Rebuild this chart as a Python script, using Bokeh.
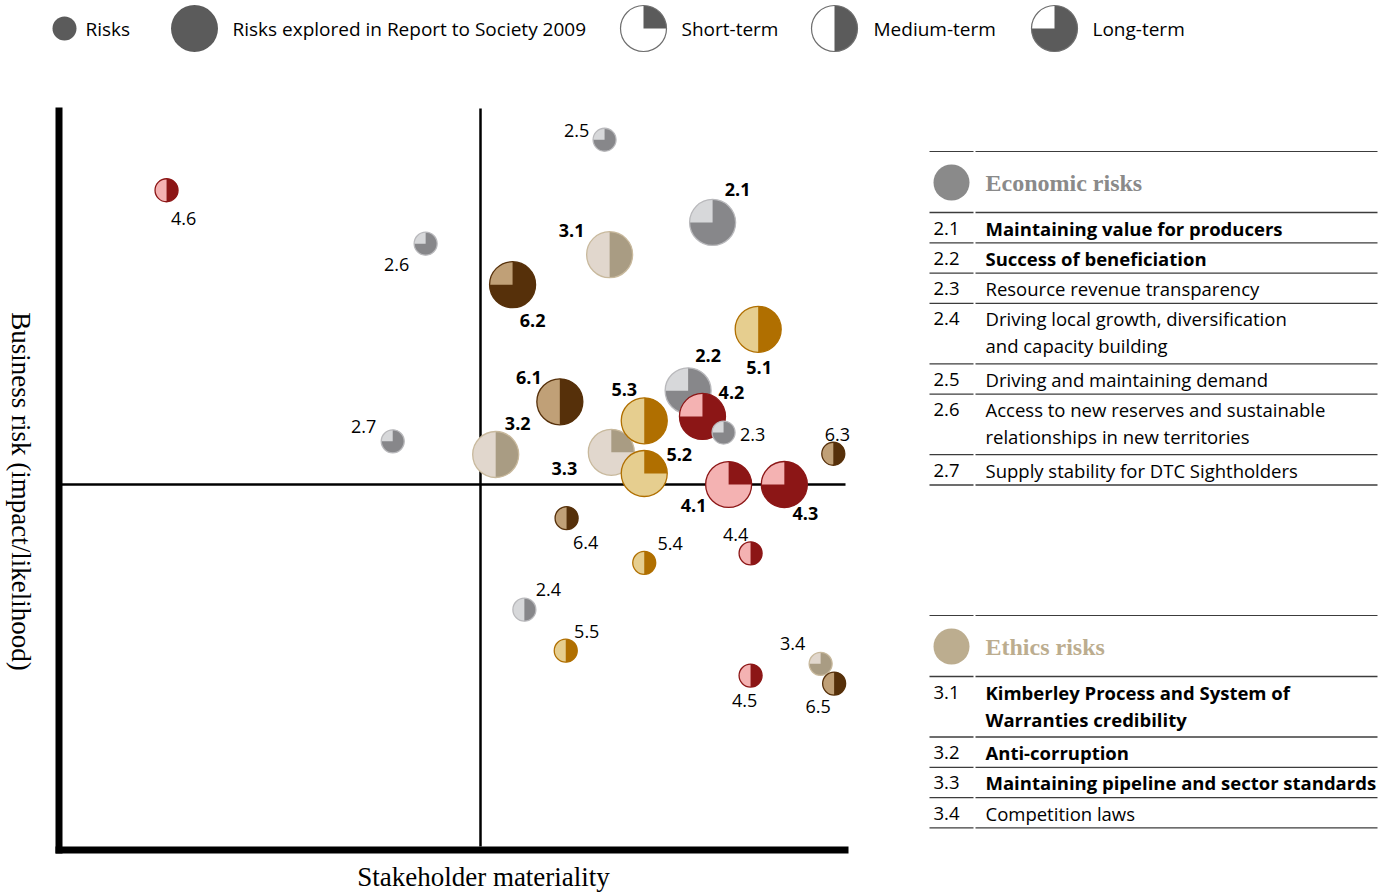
import math
from bokeh.plotting import figure
from bokeh.models import Range1d
from bokeh.core.properties import value
from bokeh.embed import file_html
from bokeh.resources import INLINE

W, H = 1392, 894
SANS = "Open Sans"
SERIF = "Liberation Serif"

# ---------------------------------------------------------------------------
# Risk map data: stakeholder materiality (x) against business risk (y), 0-10
# ---------------------------------------------------------------------------
risk_ids = ["4.6", "2.6", "2.5", "2.1", "3.1", "6.2", "5.1", "2.2", "4.2", "2.3",
            "6.1", "3.3", "5.3", "3.2", "5.2", "4.1", "4.3", "6.3", "2.7", "6.4",
            "5.4", "4.4", "2.4", "5.5", "4.5", "3.4", "6.5"]
materiality = [1.28, 4.35, 6.47, 7.75, 6.53, 5.38, 8.29, 7.46, 7.63, 7.88,
               5.94, 6.55, 6.94, 5.18, 6.94, 7.94, 8.60, 9.18, 3.96, 6.02,
               6.94, 8.20, 5.52, 6.01, 8.20, 9.03, 9.19]
business_risk = [9.02, 8.29, 9.71, 8.58, 8.14, 7.73, 7.12, 6.28, 5.93, 5.71,
                 6.13, 5.44, 5.87, 5.41, 5.15, 5.00, 5.00, 5.42, 5.59, 4.54,
                 3.93, 4.06, 3.29, 2.73, 2.39, 2.55, 2.28]
# explored in Report to Society 2009 (drawn large, labelled in bold)
explored = [False, False, False, True, True, True, True, True, True, False,
            True, True, True, True, True, True, True, False, False, False,
            False, False, False, False, False, False, False]
horizon = ["medium", "long", "long", "long", "medium", "long", "medium", "long", "long", "long",
           "medium", "short", "medium", "medium", "short", "short", "long", "medium", "long", "medium",
           "medium", "medium", "medium", "medium", "medium", "long", "medium"]

MID_MATERIALITY = 5.0
MID_RISK = 5.0

# Risk tables
economic_title = "Economic risks"
economic_codes = ["2.1", "2.2", "2.3", "2.4", "2.5", "2.6", "2.7"]
economic_names = ["Maintaining value for producers",
                  "Success of beneficiation",
                  "Resource revenue transparency",
                  "Driving local growth, diversification\nand capacity building",
                  "Driving and maintaining demand",
                  "Access to new reserves and sustainable\nrelationships in new territories",
                  "Supply stability for DTC Sightholders"]
ethics_title = "Ethics risks"
ethics_codes = ["3.1", "3.2", "3.3", "3.4"]
ethics_names = ["Kimberley Process and System of\nWarranties credibility",
                "Anti-corruption",
                "Maintaining pipeline and sector standards",
                "Competition laws"]

legend_labels = ["Risks", "Risks explored in Report to Society 2009",
                 "Short-term", "Medium-term", "Long-term"]

# ---------------------------------------------------------------------------
# Styling
# ---------------------------------------------------------------------------
# family -> (light, dark, outline)
palette = {
    "2": ("#d7d8da", "#87878a", "#b9b9bc"),
    "3": ("#e1d7cd", "#a99c83", "#c8b99d"),
    "4": ("#f4b2b2", "#8c1616", "#8c1616"),
    "5": ("#e6ce8f", "#b06f00", "#b06f00"),
    "6": ("#c0a077", "#56300a", "#56300a"),
}
R_SMALL, R_LARGE = 11.5, 23.0

# dark sector of each pie (start, end, anticlockwise)
dark_sector = {
    "short": (0.0, math.pi / 2),
    "medium": (-math.pi / 2, math.pi / 2),
    "long": (math.pi, math.pi / 2),
}

label_offset = {
    "4.6": (17, 28), "2.6": (-29, 21), "2.5": (-28, -9), "2.1": (25, -33),
    "3.1": (-38, -24), "6.2": (20, 36), "5.1": (1, 38), "2.2": (20, -35),
    "4.2": (29, -24), "2.3": (29, 2), "6.1": (-31, -24), "3.3": (-47, 16),
    "5.3": (-20, -31), "3.2": (22, -31), "5.2": (35, -19), "4.1": (-35, 21),
    "4.3": (21, 29), "6.3": (4, -19), "2.7": (-29, -15), "6.4": (19, 24),
    "5.4": (26, -19), "4.4": (-15, -19), "2.4": (24, -20), "5.5": (21, -19),
    "4.5": (-6, 25), "3.4": (-28, -20), "6.5": (-16, 23),
}

# page geometry of the risk-map scale (pixels per unit)
ORIGIN_PX = (58.0, 850.0)
PX_PER_X = 84.4
PX_PER_Y = 73.2

LABEL_SIZE = 18
BODY_SIZE = 18.5
LEGEND_SIZE = 19
AXIS_SIZE = 27
HEAD_SIZE = 24


def dx(px):
    return (px - ORIGIN_PX[0]) / PX_PER_X


def dy(py):
    return (ORIGIN_PX[1] - py) / PX_PER_Y


p = figure(width=W, height=H, output_backend="svg", toolbar_location=None,
           x_range=Range1d(dx(0), dx(W)), y_range=Range1d(dy(H), dy(0)),
           x_axis_type=None, y_axis_type=None, min_border=0)
p.outline_line_color = None
p.grid.visible = False
p.background_fill_color = "white"
p.border_fill_color = "white"


def hline(x0, x1, y, color="black", width=1.0):
    p.segment(x0=[dx(x0)], y0=[dy(y)], x1=[dx(x1)], y1=[dy(y)],
              line_color=color, line_width=width)


def vline(x, y0, y1, color="black", width=1.0):
    p.segment(x0=[dx(x)], y0=[dy(y0)], x1=[dx(x)], y1=[dy(y1)],
              line_color=color, line_width=width)


def txt(x, y, s, size, color="black", font=SANS, style="normal", align="left", angle=0.0):
    p.text(x=[x], y=[y], text=[s], text_font=value(font), text_font_size=f"{size}px",
           text_font_style=style, text_color=color, text_align=align,
           text_baseline="middle", angle=angle)


# ---------------------------------------------------------------------------
# Axes and quadrant lines
# ---------------------------------------------------------------------------
vline(ORIGIN_PX[0] + 0.5, 107, 853, width=7)
hline(55, 848, ORIGIN_PX[1] - 0.5, width=7)
vline(ORIGIN_PX[0] + MID_MATERIALITY * PX_PER_X, 108, 846, width=2.5)
hline(60, 845, ORIGIN_PX[1] - MID_RISK * PX_PER_Y, width=2.5)

txt(dx(20), dy(491), "Business risk (impact/likelihood)", AXIS_SIZE, font=SERIF,
    align="center", angle=-math.pi / 2)
txt(dx(483), dy(876), "Stakeholder materiality", AXIS_SIZE, font=SERIF, align="center")

# ---------------------------------------------------------------------------
# Risk bubbles (pie shows the time horizon)
# ---------------------------------------------------------------------------
for rid, mx, br, big, hz in zip(risk_ids, materiality, business_risk, explored, horizon):
    light, dark, edge = palette[rid.split(".")[0]]
    r = R_LARGE if big else R_SMALL
    p.circle(x=[mx], y=[br], radius=r, radius_units="screen",
             fill_color=light, line_color=None)
    a0, a1 = dark_sector[hz]
    p.wedge(x=[mx], y=[br], radius=r, radius_units="screen",
            start_angle=a0, end_angle=a1, direction="anticlock",
            fill_color=dark, line_color=None)
    p.circle(x=[mx], y=[br], radius=r, radius_units="screen",
             fill_color=None, line_color=edge, line_width=1.3)

for rid, mx, br, big in zip(risk_ids, materiality, business_risk, explored):
    ox, oy = label_offset[rid]
    txt(mx + ox / PX_PER_X, br - oy / PX_PER_Y, rid, LABEL_SIZE,
        style="bold" if big else "normal", align="center")

# ---------------------------------------------------------------------------
# Top legend
# ---------------------------------------------------------------------------
LEG = "#5b5b5b"
LY = 28
p.circle(x=[dx(64)], y=[dy(LY)], radius=12, radius_units="screen", fill_color=LEG, line_color=None)
txt(dx(85), dy(LY), legend_labels[0], LEGEND_SIZE)
p.circle(x=[dx(194)], y=[dy(LY)], radius=23.5, radius_units="screen", fill_color=LEG, line_color=None)
txt(dx(232), dy(LY), legend_labels[1], LEGEND_SIZE)
for cx, tx, hz, lab in zip([643, 834, 1054], [681, 873, 1092],
                           ["short", "medium", "long"], legend_labels[2:]):
    p.circle(x=[dx(cx)], y=[dy(LY)], radius=23, radius_units="screen",
             fill_color="white", line_color=None)
    a0, a1 = dark_sector[hz]
    p.wedge(x=[dx(cx)], y=[dy(LY)], radius=23, radius_units="screen",
            start_angle=a0, end_angle=a1, direction="anticlock",
            fill_color=LEG, line_color=None)
    p.circle(x=[dx(cx)], y=[dy(LY)], radius=23, radius_units="screen",
             fill_color=None, line_color="#6e6e6e", line_width=1.2)
    txt(dx(tx), dy(LY), lab, LEGEND_SIZE)

# ---------------------------------------------------------------------------
# Risk tables
# ---------------------------------------------------------------------------
explored_by_id = dict(zip(risk_ids, explored))
RULE = "#3c3c3c"


def rule(y, width=1.3):
    hline(929, 973, y, color=RULE, width=width)
    hline(975, 1377, y, color=RULE, width=width)


def draw_table(top, title, color, codes, names):
    rule(top, 1.1)
    p.circle(x=[dx(951)], y=[dy(top + 31)], radius=18, radius_units="screen",
             fill_color=color, line_color=None)
    txt(dx(985), dy(top + 31), title, HEAD_SIZE, color=color, font=SERIF, style="bold")
    y = top + 61
    rule(y, 1.5)
    for code, name in zip(codes, names):
        style = "bold" if explored_by_id.get(code, False) else "normal"
        lines = name.split("\n")
        txt(dx(933), dy(y + 15.5), code, BODY_SIZE)
        for i, ln in enumerate(lines):
            txt(dx(985), dy(y + 15.5 + 27 * i), ln, BODY_SIZE, style=style)
        y += 30.3 if len(lines) == 1 else 60.5
        rule(y)


draw_table(151, economic_title, "#8a8a8a", economic_codes, economic_names)
draw_table(615, ethics_title, "#bcad8f", ethics_codes, ethics_names)

open("out.html", "w").write(file_html(p, INLINE))
